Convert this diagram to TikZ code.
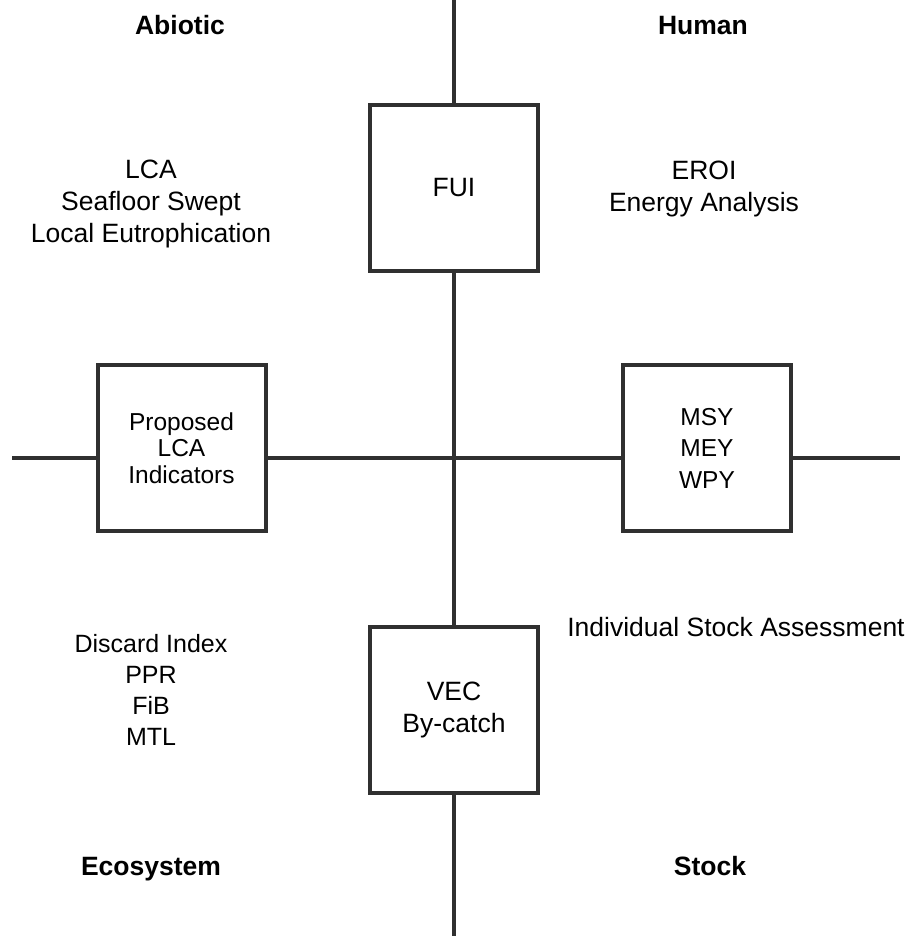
\documentclass[tikz,border=0pt]{standalone}
\usepackage{fontspec}
\setmainfont{Liberation Sans}
\begin{document}
\begin{tikzpicture}[x=1pt,y=-1pt,
  axis/.style={draw=linecol, line width=4pt},
  boxnode/.style={draw=linecol, line width=4pt, fill=white, minimum width=168pt, minimum height=166pt, inner sep=0pt, align=center},
  txt/.style={font=\fontsize{26.5}{32}\selectfont, align=center, inner sep=0pt, anchor=north},
  head/.style={font=\fontsize{26.5}{32}\selectfont\bfseries, inner sep=0pt, anchor=base}]
\definecolor{linecol}{HTML}{303030}
\useasboundingbox[fill=white] (0,0) rectangle (917,936);
% axes
\coordinate (top) at (454,0);
\coordinate (bottom) at (454,936);
\coordinate (left) at (12,458);
\coordinate (right) at (900,458);
\draw[axis] (top) -- (bottom);
\draw[axis] (left) -- (right);
% boxes
\node[boxnode, font=\fontsize{26.5}{32}\selectfont] (fui) at (454,188) {FUI};
\node[boxnode, font=\fontsize{24.5}{26.5}\selectfont] (lcaind) at (181.5,448) {Proposed\\LCA\\Indicators};
\node[boxnode, font=\fontsize{24.5}{31.5}\selectfont] (msy) at (707,448) {MSY\\MEY\\WPY};
\node[boxnode, font=\fontsize{26.5}{32}\selectfont] (vec) at (454,710) {VEC\\By-catch};
% quadrant headers
\node[head] (abiotic) at (180,35) {Abiotic};
\node[head] (human) at (703,35) {Human};
\node[head] (ecosystem) at (151,875) {Ecosystem};
\node[head] (stock) at (710,875) {Stock};
% quadrant texts
\node[txt] (lca) at (151,155.6) {\strut LCA\\Seafloor Swept\\Local Eutrophication};
\node[txt, font=\fontsize{26.5}{32.5}\selectfont] (eroi) at (704,156.25) {\strut EROI\\Energy Analysis};
\node[txt, font=\fontsize{25}{31}\selectfont] (discard) at (151,630.3) {\strut Discard Index\\PPR\\FiB\\MTL};
\node[txt, anchor=base] (isa) at (736,636) {Individual Stock Assessment};
\end{tikzpicture}
\end{document}
